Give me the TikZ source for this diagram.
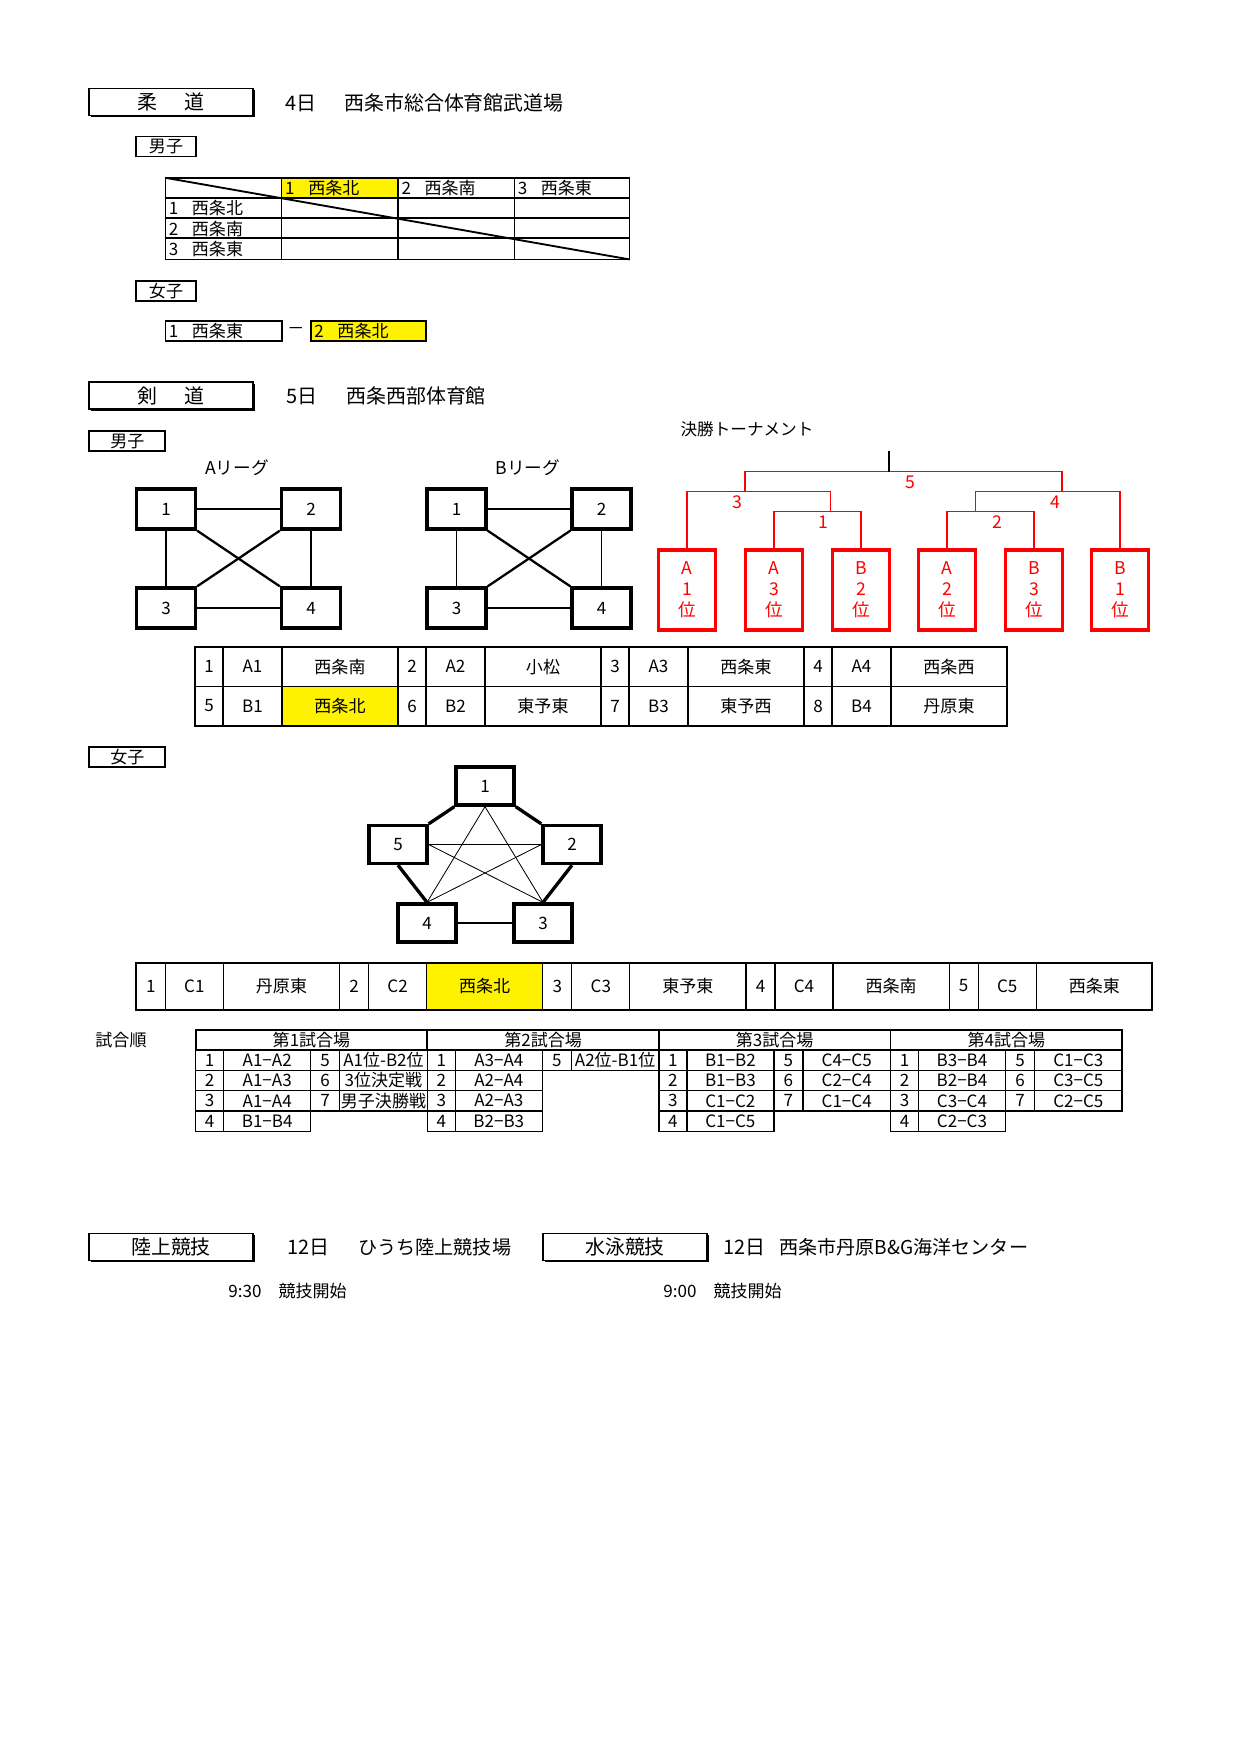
\documentclass[tikz,border=0pt]{standalone}
\usepackage{fontspec}
\setmainfont{Noto Sans CJK JP}
\usepackage{tikz}
\usetikzlibrary{positioning,shadows}
\newcommand{\pxu}{0.16933mm}
\newcommand{\fT}{\fontsize{9.6}{11.5}\selectfont}
\newcommand{\fC}{\fontsize{8.2}{9.8}\selectfont}
\begin{document}
\begin{tikzpicture}[x=0.16933mm,y=-0.16933mm]
\tikzstyle{T}=[draw,line width=0.8pt,fill=white,minimum width=164*\pxu,minimum height=27*\pxu,inner sep=0,font=\fT,drop shadow={shadow xshift=0.9pt,shadow yshift=-0.9pt,opacity=1,fill=black}]
\tikzstyle{S}=[draw,line width=0.8pt,minimum width=60*\pxu,minimum height=20*\pxu,inner sep=0,font=\fC]
\tikzstyle{W}=[S,minimum width=76*\pxu]
\tikzstyle{C}=[inner sep=0,font=\fC]
\tikzstyle{H}=[inner sep=0,anchor=west,font=\fT]
\tikzstyle{L}=[draw,line width=1.6pt,fill=white,minimum width=59*\pxu,minimum height=40*\pxu,inner sep=0,font=\fC]
\tikzstyle{P}=[L,minimum width=58*\pxu,minimum height=38*\pxu]
\tikzstyle{R}=[draw=red,line width=1.6pt,text=red,minimum width=57*\pxu,minimum height=80*\pxu,inner sep=0,align=center,font=\fontsize{8.5}{10.2}\selectfont]
\fill[white] (0,0) rectangle (1240,1754);
\useasboundingbox (0,0) rectangle (1240,1754);
% judo
\node[T] (judo) at (171,102) {柔\hspace{1.4em}道};
\node[H] (jday) at (285,103) {4日};
\node[H] (jplace) at (344,103) {西条市総合体育館武道場};
\node[S] (jm) at (166,146.5) {男子};
\fill[yellow] (281.7,177.8) rectangle (398,197.9);
\draw[line width=0.8pt] (165.5,177.8) rectangle (629.4,259.4);
\foreach \x in {281.7,398,514.3} \draw[line width=0.6pt] (\x,177.8) -- (\x,259.4);
\foreach \y in {197.9,218,238.1} \draw[line width=0.6pt] (165.5,\y) -- (629.4,\y);
\draw[line width=0.9pt] (165.5,177.8) -- (629.4,259.4);
\foreach \i/\s in {1/西条北,2/西条南,3/西条東}{
  \node[C,anchor=west] (jc\i) at ({168.5+116.3*\i},188) {\i\hspace{.8em}\s};
  \node[C,anchor=west] (jr\i) at (168.5,{188+20.3*\i}) {\i\hspace{.8em}\s};
}
\node[S] (jf) at (166,291) {女子};
\draw[line width=0.8pt] (165.5,321) rectangle (281.7,341);
\filldraw[fill=yellow,line width=0.8pt] (311,321) rectangle (426,341);
\node[C,anchor=west] (jw1) at (168.5,331) {1\hspace{.8em}西条東};
\node[C] (jdash) at (296,331) {－};
\node[C,anchor=west] (jw2) at (314,331) {2\hspace{.8em}西条北};
% kendo
\node[T] (kendo) at (171,395.5) {剣\hspace{1.4em}道};
\node[H] (kday) at (286,396) {5日};
\node[H] (kplace) at (346,396) {西条西部体育館};
\node[W] (km) at (127.3,441) {男子};
\node[C,font=\fontsize{8.5}{10}\selectfont] (alg) at (237,468) {Aリーグ};
\node[C,font=\fontsize{8.5}{10}\selectfont] (blg) at (528,468) {Bリーグ};
\foreach \g/\x in {a/166,b/456.5}{
  \node[L] (\g1) at (\x,509) {1};
  \node[L] (\g2) at (\x+145,509) {2};
  \node[L] (\g3) at (\x,608) {3};
  \node[L] (\g4) at (\x+145,608) {4};
  \draw[line width=0.6pt] (\g1) -- (\g2);
  \draw[line width=0.6pt] (\g1) -- (\g3);
  \draw[line width=0.6pt] (\g2) -- (\g4);
  \draw[line width=0.6pt] (\g3) -- (\g4);
  \draw[line width=1.1pt] (\g1.south east) -- (\g4.north west);
  \draw[line width=1.1pt] (\g2.south west) -- (\g3.north east);
}
\node[C,font=\fontsize{8}{10}\selectfont] (final) at (747,429) {決勝トーナメント};
\foreach \i/\x/\p/\n in {1/687/A/1,2/774/A/3,3/861/B/2,4/947/A/2,5/1034/B/3,6/1120/B/1}
  \node[R] (t\i) at (\x,590) {\p\\\n\\位};
\coordinate (m3L) at (830.7,511.7);
\coordinate (m2L) at (745,491.5);
\coordinate (m3R) at (975.6,511.7);
\coordinate (m2R) at (1062,491.5);
\coordinate (m1) at (889,471.6);
\coordinate (top) at (889,451);
\draw[red,line width=0.7pt] (t2.north) |- (m3L) -| (t3.north);
\draw[red,line width=0.7pt] (t1.north) |- (m2L) -| (m3L);
\draw[red,line width=0.7pt] (t4.north) |- (m3R) -| (t5.north);
\draw[red,line width=0.7pt] (t6.north) |- (m2R) -| (m3R);
\draw[red,line width=0.7pt] (m2L) |- (m1) -| (m2R);
\draw[line width=0.7pt] (m1) -- (top);
\foreach \n/\x/\y in {5/910/482,3/737/502,1/823/522,4/1055/502,2/997/522}
  \node[C,text=red,font=\fontsize{8.5}{10}\selectfont] (r\n) at (\x,\y) {\n};
\fill[yellow] (282,686.5) rectangle (398,725.6);
\draw[line width=0.9pt] (195,647) rectangle (1007,725.6);
\draw[line width=0.6pt] (195,686.5) -- (1007,686.5);
\foreach \x in {223,282,398,426,485,601,629,688,804,832,891} \draw[line width=0.6pt] (\x,647) -- (\x,725.6);
\foreach \k/\a/\b/\na/\nb in {0/1/5/西条南/西条北,1/2/6/小松/東予東,2/3/7/西条東/東予西,3/4/8/西条西/丹原東}{
  \node[C] (kn\a) at ({209+203*\k},666.7) {\a};
  \node[C] (kc\a) at ({252.5+203*\k},666.7) {A\a};
  \node[C] (kt\a) at ({340+203*\k},666.7) {\na};
  \node[C] (kn\b) at ({209+203*\k},706) {\b};
  \node[C] (kc\b) at ({252.5+203*\k},706) {B\a};
  \node[C] (kt\b) at ({340+203*\k},706) {\nb};
}
\node[W] (kf) at (127.3,757) {女子};
\node[P] (p1) at (485,786) {1};
\node[P] (p2) at (572,844.5) {2};
\node[P] (p3) at (543,923) {3};
\node[P] (p4) at (427,923) {4};
\node[P] (p5) at (398,844.5) {5};
\draw[line width=1.6pt] (p1.south west) -- (p5.north east);
\draw[line width=1.6pt] (p1.south east) -- (p2.north west);
\draw[line width=1.6pt] (p5.south) -- (p4.north);
\draw[line width=1.6pt] (p2.south) -- (p3.north);
\draw[line width=1pt] (p4.east) -- (p3.west);
\draw[line width=0.4pt] (p1.south) -- (p4.north);
\draw[line width=0.4pt] (p1.south) -- (p3.north);
\draw[line width=0.4pt] (p5.east) -- (p2.west);
\draw[line width=0.4pt] (p5.east) -- (p3.north);
\draw[line width=0.4pt] (p2.west) -- (p4.north);
\fill[yellow] (426.6,962.6) rectangle (542.8,1009.6);
\draw[line width=0.9pt] (136.4,962.6) rectangle (1152.4,1009.6);
\foreach \x in {165.4,223.4,339.6,368.6,426.6,542.8,571.8,629.8,746,775,833,949.2,978.2,1036.2} \draw[line width=0.6pt] (\x,962.6) -- (\x,1009.6);
\foreach \k/\i/\n in {0/1/丹原東,1/2/西条北,2/3/東予東,3/4/西条南,4/5/西条東}{
  \node[C] (wn\i) at ({150.9+203.2*\k},986) {\i};
  \node[C] (wc\i) at ({194.4+203.2*\k},986) {C\i};
  \node[C] (wt\i) at ({281.5+203.2*\k},986) {\n};
}
% order
\node[C] (order) at (121,1040) {試合順};
\foreach \k/\i in {0/1,1/2,2/3,3/4}{
  \draw[line width=0.8pt] ({195.7+231.6*\k},1030) rectangle ++(231.6,20);
  \node[C] (v\i) at ({311.5+231.6*\k},1040) {第\i 試合場};
}
\foreach \k/\r/\m in {0/1/A1−A2,0/2/A1−A3,0/3/A1−A4,0/4/B1−B4,1/1/A3−A4,1/2/A2−A4,1/3/A2−A3,1/4/B2−B3,2/1/B1−B2,2/2/B1−B3,2/3/C1−C2,2/4/C1−C5,3/1/B3−B4,3/2/B2−B4,3/3/C3−C4,3/4/C2−C3}{
  \draw[line width=0.6pt] ({195.7+231.6*\k},{1029.7+20.3*\r}) rectangle ++(115,20.3);
  \draw[line width=0.6pt] ({223.7+231.6*\k},{1029.7+20.3*\r}) -- ++(0,20.3);
  \node[C] (sn\k\r) at ({209.7+231.6*\k},{1039.85+20.3*\r}) {\r};
  \node[C] (sm\k\r) at ({267.2+231.6*\k},{1039.85+20.3*\r}) {\m};
}
\foreach \k/\r/\n/\m in {0/1/5/A1位-B2位,0/2/6/3位決定戦,0/3/7/男子決勝戦,1/1/5/A2位-B1位,2/1/5/C4−C5,2/2/6/C2−C4,2/3/7/C1−C4,3/1/5/C1−C3,3/2/6/C3−C5,3/3/7/C2−C5}{
  \draw[line width=0.6pt] ({310.7+231.6*\k},{1029.7+20.3*\r}) rectangle ++(116.6,20.3);
  \draw[line width=0.6pt] ({339.7+231.6*\k},{1029.7+20.3*\r}) -- ++(0,20.3);
  \node[C] (tn\k\r) at ({325.2+231.6*\k},{1039.85+20.3*\r}) {\n};
  \node[C] (tm\k\r) at ({383.5+231.6*\k},{1039.85+20.3*\r}) {\m};
}
% track and swim
\node[T] (track) at (171,1247) {陸上競技};
\node[H] (tday) at (287,1247) {12日};
\node[H,font=\fontsize{9.2}{11}\selectfont] (tplace) at (358,1247) {ひうち陸上競技場};
\node[T] (swim) at (625,1247) {水泳競技};
\node[H] (sday) at (723,1247) {12日};
\node[H,font=\fontsize{9.2}{11}\selectfont] (splace) at (779,1247) {西条市丹原B\&G海洋センター};
\node[H,font=\fC] (tstart) at (228,1291) {9:30\hspace{1em}競技開始};
\node[H,font=\fC] (sstart) at (663,1291) {9:00\hspace{1em}競技開始};
\end{tikzpicture}
\end{document}
